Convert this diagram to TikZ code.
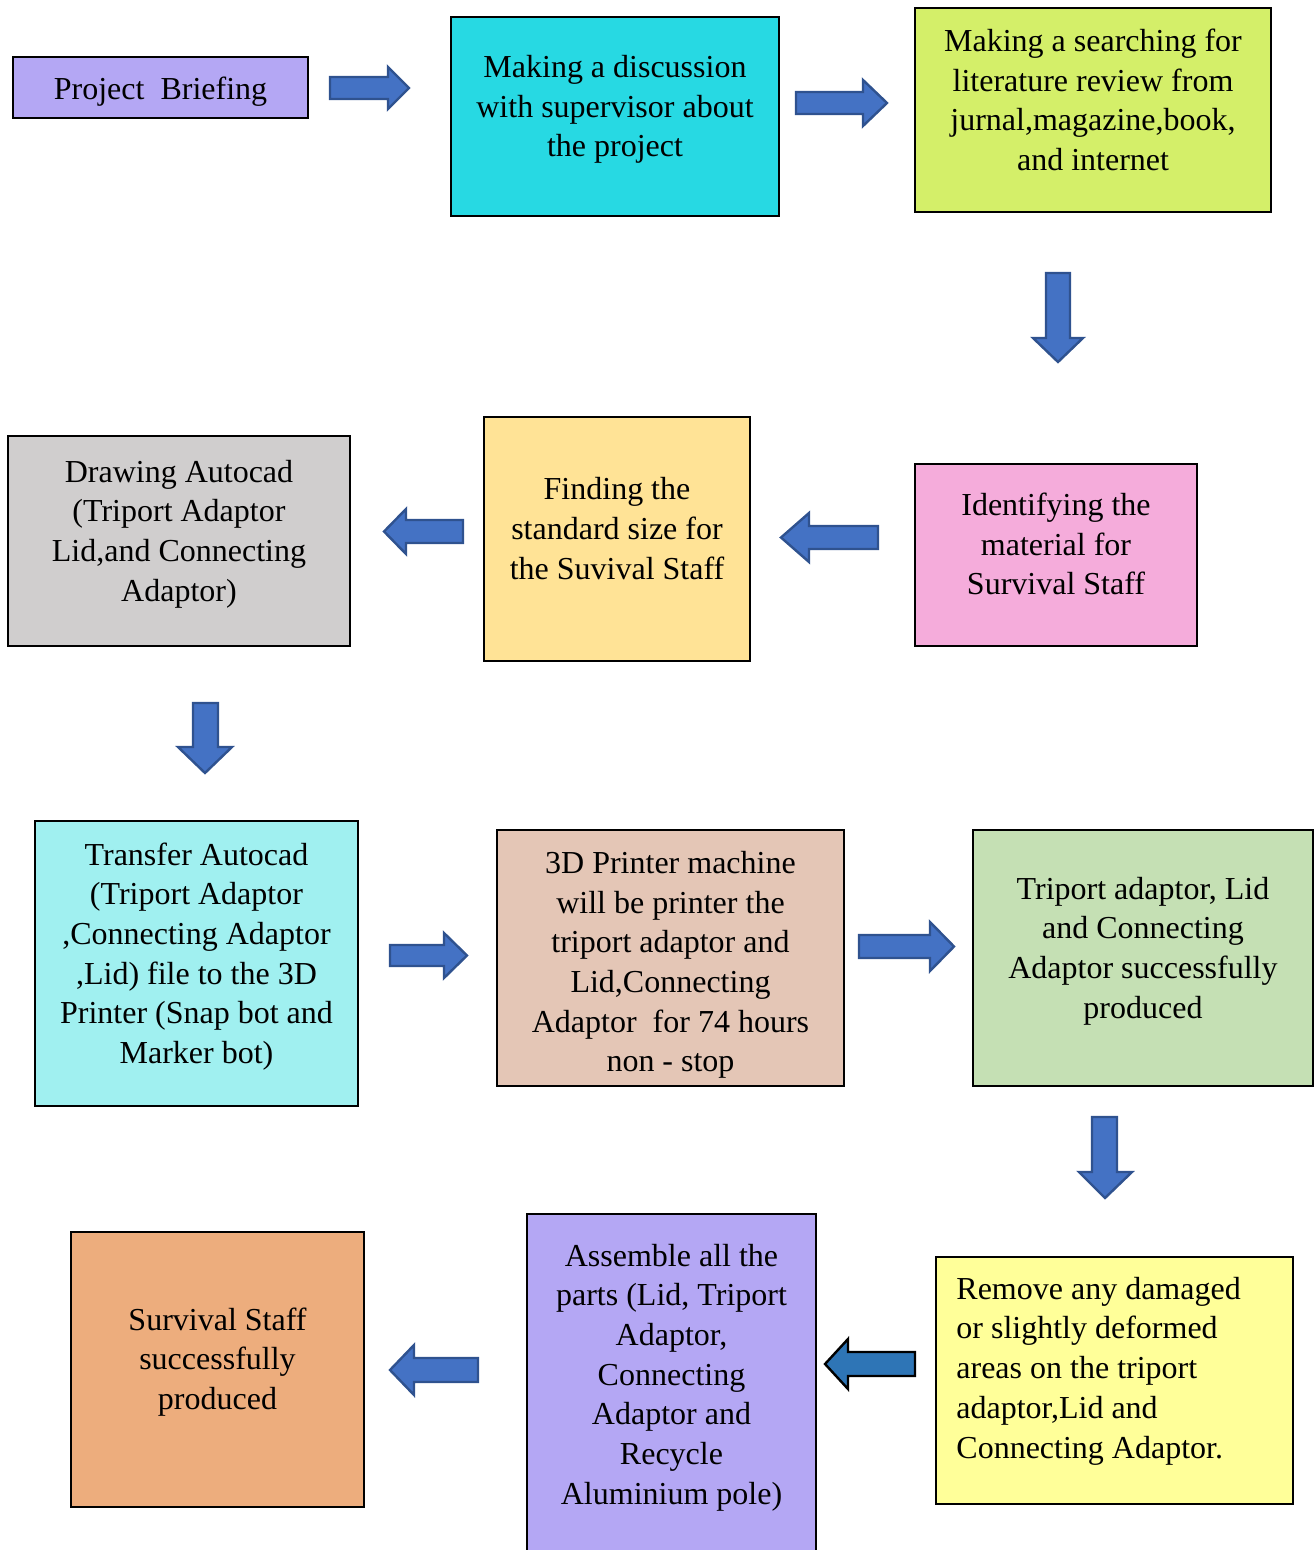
\documentclass[tikz,border=0pt]{standalone}
\usepackage{fontspec}
\setmainfont{Liberation Serif}
\begin{document}
\begin{tikzpicture}[x=0.5pt,y=-0.5pt,
  box/.style={draw=black,line width=1.4pt,inner sep=0pt,rectangle},
  txt/.style={inner sep=0pt,align=center,font=\fontsize{16}{19.85}\selectfont},
  blockarrow/.style={fill=arrowblue,draw=arrowedge,line width=1.2pt,line join=miter},
  blockarrowalt/.style={fill=arrowalt,draw=black,line width=1.2pt,line join=miter}]
\definecolor{lavender}{HTML}{B4A7F4}
\definecolor{cyanbox}{HTML}{27D9E3}
\definecolor{limebox}{HTML}{D4EF69}
\definecolor{pinkbox}{HTML}{F5ACDB}
\definecolor{creambox}{HTML}{FFE396}
\definecolor{greybox}{HTML}{D0CECE}
\definecolor{aquabox}{HTML}{A0F0F0}
\definecolor{tanbox}{HTML}{E4C6B6}
\definecolor{greenbox}{HTML}{C5E0B4}
\definecolor{yellowbox}{HTML}{FFFF99}
\definecolor{orangebox}{HTML}{EDAD7D}
\definecolor{arrowblue}{HTML}{4472C4}
\definecolor{arrowedge}{HTML}{2F528F}
\definecolor{arrowalt}{HTML}{2E75B6}

\useasboundingbox (0,0) rectangle (1314,1550);
\clip (0,0) rectangle (1314,1550);

% process boxes
\node[box,fill=lavender,minimum width=147.5pt,minimum height=30.5pt] (b1) at (160.5,87.5) {};
\node[box,fill=cyanbox,minimum width=164pt,minimum height=99.5pt] (b2) at (615,116.5) {};
\node[box,fill=limebox,minimum width=178pt,minimum height=102pt] (b3) at (1093,110) {};
\node[box,fill=pinkbox,minimum width=141pt,minimum height=91pt] (b4) at (1056,555) {};
\node[box,fill=creambox,minimum width=133pt,minimum height=122pt] (b5) at (617,539) {};
\node[box,fill=greybox,minimum width=171pt,minimum height=105pt] (b6) at (179,541) {};
\node[box,fill=aquabox,minimum width=161.5pt,minimum height=142.5pt] (b7) at (196.5,963.5) {};
\node[box,fill=tanbox,minimum width=173.5pt,minimum height=128pt] (b8) at (670.5,958) {};
\node[box,fill=greenbox,minimum width=170pt,minimum height=128pt] (b9) at (1143,958) {};
\node[box,fill=yellowbox,minimum width=178.5pt,minimum height=123.5pt] (b10) at (1114.5,1380.5) {};
\node[box,fill=lavender,minimum width=144.5pt,minimum height=193pt] (b11) at (671.5,1407) {};
\node[box,fill=orangebox,minimum width=146.5pt,minimum height=137.5pt] (b12) at (217.5,1369.5) {};

% box texts
\node[txt] (t1) at (160.5,91.5) {Project\ \ Briefing};
\node[txt] (t2) at (615,109.5) {Making a discussion\\with supervisor about\\the project};
\node[txt] (t3) at (1093,100) {Making a searching for\\literature review from\\jurnal,magazine,book,\\and internet};
\node[txt] (t4) at (1056,544) {Identifying the\\material for\\Survival Staff};
\node[txt] (t5) at (617,528.5) {Finding the\\standard size for\\the Suvival Staff};
\node[txt] (t6) at (179,534) {Drawing Autocad\\(Triport Adaptor\\Lid,and Connecting\\Adaptor)};
\node[txt] (t7) at (196.5,956.5) {Transfer Autocad\\(Triport Adaptor\\,Connecting Adaptor\\,Lid) file to the 3D\\Printer (Snap bot and\\Marker bot)};
\node[txt] (t8) at (670.5,965) {3D Printer machine\\will be printer the\\triport adaptor and\\Lid,Connecting\\Adaptor\ \ for 74 hours\\non - stop};
\node[txt] (t9) at (1143,951) {Triport adaptor, Lid\\and Connecting\\Adaptor successfully\\produced};
\node[txt,align=left,anchor=west] (t10) at (956,1371) {Remove any damaged\\or slightly deformed\\areas on the triport\\adaptor,Lid and\\Connecting Adaptor.};
\node[txt] (t11) at (671.5,1377.5) {Assemble all the\\parts (Lid, Triport\\Adaptor,\\Connecting\\Adaptor and\\Recycle\\Aluminium pole)};
\node[txt] (t12) at (217.5,1362) {Survival Staff\\successfully\\produced};

% block arrows between the steps
% right-pointing
\draw[blockarrow] (330,77) -- (388,77) -- (388,67) -- (409,88) -- (388,109) -- (388,99) -- (330,99) -- cycle;
\draw[blockarrow] (796,92) -- (863,92) -- (863,80) -- (887,103) -- (863,126) -- (863,114) -- (796,114) -- cycle;
\draw[blockarrow] (390,945) -- (444,945) -- (444,933) -- (467,955.5) -- (444,978) -- (444,966) -- (390,966) -- cycle;
\draw[blockarrow] (859,935) -- (930,935) -- (930,922) -- (954,946.5) -- (930,971) -- (930,958) -- (859,958) -- cycle;
% down-pointing
\draw[blockarrow] (1046,273) -- (1070,273) -- (1070,338) -- (1083,338) -- (1058,362) -- (1033,338) -- (1046,338) -- cycle;
\draw[blockarrow] (193,703) -- (218,703) -- (218,747) -- (232,747) -- (205,773) -- (178,747) -- (193,747) -- cycle;
\draw[blockarrow] (1092,1117) -- (1117,1117) -- (1117,1172) -- (1132,1172) -- (1105,1198) -- (1079,1172) -- (1092,1172) -- cycle;
% left-pointing
\draw[blockarrow] (878,526) -- (809,526) -- (809,513) -- (781,537.5) -- (809,562) -- (809,549) -- (878,549) -- cycle;
\draw[blockarrow] (463,520) -- (406,520) -- (406,509) -- (384,531.5) -- (406,554) -- (406,543) -- (463,543) -- cycle;
\draw[blockarrowalt] (915,1352) -- (848,1352) -- (848,1339) -- (825,1364) -- (848,1389) -- (848,1376) -- (915,1376) -- cycle;
\draw[blockarrow] (478,1358) -- (414,1358) -- (414,1345) -- (390,1370) -- (414,1395) -- (414,1382) -- (478,1382) -- cycle;
\end{tikzpicture}
\end{document}
